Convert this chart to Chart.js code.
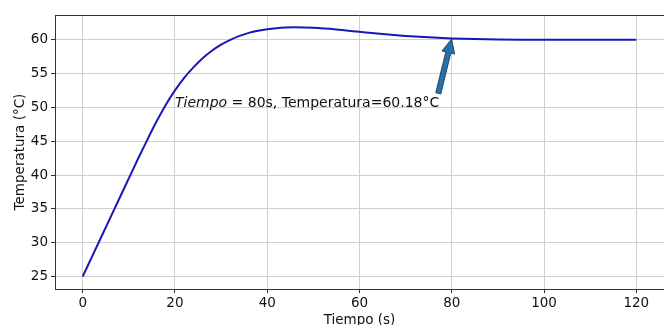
<!DOCTYPE html>
<html>
<head>
<meta charset="utf-8">
<script src="https://cdn.jsdelivr.net/npm/chart.js@4/dist/chart.umd.min.js"></script>
<style>
  html, body { margin: 0; padding: 0; background: #fff; }
  #wrap { width: 664px; height: 325px; }
</style>
</head>
<body>
<div id="wrap"><canvas id="c" width="664" height="325"></canvas></div>
<script>
// Data
const tiempo = [0, 2, 4, 6, 8, 10, 12, 14, 16, 18, 20, 22, 24, 26, 28, 30, 32, 34, 36, 38, 40, 42, 44, 46, 50, 55, 60, 65, 70, 75, 80, 85, 90, 95, 100, 110, 120];
const temperatura = [25, 27.9, 30.8, 33.7, 36.6, 39.5, 42.4, 45.2, 47.9, 50.35, 52.5, 54.35, 55.9, 57.25, 58.35, 59.25, 59.97, 60.55, 61.0, 61.32, 61.55, 61.7, 61.78, 61.82, 61.75, 61.5, 61.15, 60.82, 60.55, 60.34, 60.18, 60.08, 60.02, 59.99, 59.98, 59.99, 60.0];

const xTicks = [0, 20, 40, 60, 80, 100, 120];
const yTicks = [25, 30, 35, 40, 45, 50, 55, 60];

const xTitle = 'Tiempo (s)';
const yTitle = 'Temperatura (°C)';

// Annotation
const annotPoint = [80, 60.18];
const annotTextPos = [20, 50];
const annotItalic = 'Tiempo';
const annotRest = ' = 80s, Temperatura=60.18°C';

const FONT = "'DejaVu Sans', sans-serif";
const FS = 13.5;
const AFS = 14;

const points = tiempo.map((t, i) => ({ x: t, y: temperatura[i] }));

const framePlugin = {
  id: 'frame',
  beforeDatasetsDraw(chart) {
    const { ctx, chartArea: a } = chart;
    ctx.save();
    ctx.strokeStyle = '#333';
    ctx.lineWidth = 1;
    ctx.beginPath();
    ctx.moveTo(a.left, a.top + 0.5);
    ctx.lineTo(a.right, a.top + 0.5);
    ctx.stroke();
    ctx.restore();
  }
};

const annotPlugin = {
  id: 'annot',
  afterDatasetsDraw(chart) {
    const { ctx, scales } = chart;
    const xs = scales.x, ys = scales.y;
    const tx = xs.getPixelForValue(annotTextPos[0]);
    const ty = ys.getPixelForValue(annotTextPos[1]);
    ctx.save();
    ctx.fillStyle = '#111';
    ctx.textBaseline = 'alphabetic';
    ctx.textAlign = 'left';
    ctx.font = 'italic ' + AFS + 'px ' + FONT;
    ctx.fillText(annotItalic, tx, ty);
    const w1 = ctx.measureText(annotItalic).width;
    ctx.font = AFS + 'px ' + FONT;
    ctx.fillText(annotRest, tx + w1, ty);
    const w2 = ctx.measureText(annotRest).width;
    // arrow
    const x0 = tx + w1 + w2 - 1, y0 = ty - 14;
    const x1 = xs.getPixelForValue(annotPoint[0]);
    const y1 = ys.getPixelForValue(annotPoint[1]);
    const dx = x1 - x0, dy = y1 - y0;
    const L = Math.hypot(dx, dy);
    const ux = dx / L, uy = dy / L;
    const px = -uy, py = ux;
    const tipX = x1 - ux * 0.5, tipY = y1 - uy * 0.5;
    const headLen = 14, headW = 6.5, shaftW = 2.6;
    const bx = tipX - ux * headLen, by = tipY - uy * headLen;
    ctx.beginPath();
    ctx.moveTo(x0 + px * shaftW, y0 + py * shaftW);
    ctx.lineTo(bx + px * shaftW, by + py * shaftW);
    ctx.lineTo(bx + px * headW, by + py * headW);
    ctx.lineTo(tipX, tipY);
    ctx.lineTo(bx - px * headW, by - py * headW);
    ctx.lineTo(bx - px * shaftW, by - py * shaftW);
    ctx.lineTo(x0 - px * shaftW, y0 - py * shaftW);
    ctx.closePath();
    ctx.fillStyle = '#2670ab';
    ctx.fill();
    ctx.strokeStyle = '#14283a';
    ctx.lineWidth = 0.8;
    ctx.stroke();
    ctx.restore();
  }
};

new Chart(document.getElementById('c'), {
  type: 'line',
  data: {
    datasets: [{
      data: points,
      borderColor: '#1818b8',
      borderWidth: 2,
      pointRadius: 0,
      fill: false,
      cubicInterpolationMode: 'monotone'
    }]
  },
  options: {
    responsive: false,
    animation: false,
    events: [],
    layout: { padding: { top: 15, right: 0, left: 0, bottom: 0 } },
    plugins: { legend: { display: false }, tooltip: { enabled: false } },
    scales: {
      x: {
        type: 'linear',
        min: -6,
        max: 126,
        afterFit: s => { s.height = 36; },
        afterBuildTicks: s => { s.ticks = xTicks.map(v => ({ value: v })); },
        ticks: { font: { family: FONT, size: FS }, color: '#111', padding: 2, maxRotation: 0, autoSkip: false },
        grid: { color: '#cfcfcf', lineWidth: 1, tickLength: 4, tickColor: '#333', tickWidth: 1 },
        border: { display: true, color: '#333', width: 1 },
        title: { display: true, text: xTitle, font: { family: FONT, size: FS }, color: '#111', padding: { top: 0, bottom: -4 } }
      },
      y: {
        type: 'linear',
        min: 23.16,
        max: 63.64,
        afterFit: s => { s.width = 55; },
        afterBuildTicks: s => { s.ticks = yTicks.map(v => ({ value: v })); },
        ticks: { font: { family: FONT, size: FS }, color: '#111', padding: 3, autoSkip: false },
        grid: { color: '#cfcfcf', lineWidth: 1, tickLength: 4, tickColor: '#333', tickWidth: 1 },
        border: { display: true, color: '#333', width: 1 },
        title: { display: true, text: yTitle, font: { family: FONT, size: FS }, color: '#111', padding: { top: 12, bottom: 0 } }
      }
    }
  },
  plugins: [framePlugin, annotPlugin]
});
</script>
</body>
</html>
